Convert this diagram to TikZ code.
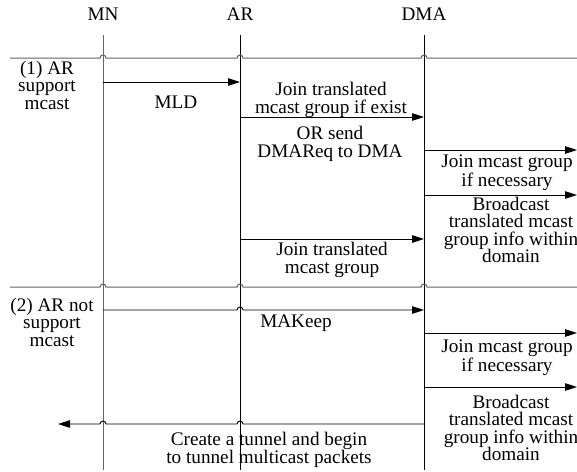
\documentclass[tikz,border=0pt]{standalone}
\usepackage{fontspec}
\setmainfont{Liberation Serif}
\usetikzlibrary{arrows.meta}
\begin{document}
\begin{tikzpicture}[x=1pt,y=-1pt,
  txt/.style={inner sep=0pt,align=center,font=\fontsize{19.2}{17.5}\selectfont},
  life/.style={line width=0.9pt},
  mnlife/.style={line width=0.9pt,draw=black!60},
  sep/.style={line width=1pt,draw=black!62},
  msg/.style={line width=0.9pt,-{Triangle[length=12pt,width=7.5pt]}}]
\useasboundingbox[fill=white] (0,0) rectangle (577,471);
% headers
\node[txt] (MN) at (103,14) {MN};
\node[txt] (AR) at (240,14) {AR};
\node[txt] (DMA) at (424,14) {DMA};
% lifelines
\coordinate (MNt) at (103,35); \coordinate (MNb) at (103,470);
\coordinate (ARt) at (240,35); \coordinate (ARb) at (240,470);
\coordinate (DMAt) at (424,35); \coordinate (DMAb) at (424,470);
\draw[mnlife] (MNt) -- (MNb);
\draw[life] (ARt) -- (ARb);
\draw[life] (DMAt) -- (DMAb);
% separators with hops
\coordinate (s1a) at (10,58); \coordinate (s1b) at (577,58);
\coordinate (s2a) at (10,287); \coordinate (s2b) at (577,287);
\draw[sep] (s1a) -- (100,58) arc[start angle=180,end angle=360,radius=3]
  -- (237,58) arc[start angle=180,end angle=360,radius=3]
  -- (421,58) arc[start angle=180,end angle=360,radius=3] -- (s1b);
\draw[sep] (s2a) -- (100,287) arc[start angle=180,end angle=360,radius=3]
  -- (237,287) arc[start angle=180,end angle=360,radius=3]
  -- (421,287) arc[start angle=180,end angle=360,radius=3] -- (s2b);
% section 1
\node[txt] (sec1) at (47,85) {(1) AR\\support\\mcast};
\coordinate (m1a) at (103,82); \coordinate (m1b) at (240,82);
\draw[msg] (m1a) -- (m1b);
\node[txt] (mld) at (176,102) {MLD};
\coordinate (m2a) at (240,117); \coordinate (m2b) at (424,117);
\draw[msg] (m2a) -- (m2b);
\node[txt] (join1) at (331,100) {Join translated\\mcast group if exist};
\node[txt] (orsend) at (330,144) {OR send\\DMAReq to DMA};
\coordinate (m3a) at (424,150); \coordinate (m3b) at (577,150);
\draw[msg] (m3a) -- (m3b);
\node[txt] (jm1) at (507,173) {Join mcast group\\if necessary};
\coordinate (m4a) at (424,195); \coordinate (m4b) at (577,195);
\draw[msg] (m4a) -- (m4b);
\node[txt] (bc1) at (511,230) {Broadcast\\translated mcast\\group info within\\domain};
\coordinate (m5a) at (240,239); \coordinate (m5b) at (424,239);
\draw[msg] (m5a) -- (m5b);
\node[txt] (join2) at (332,260) {Join translated\\mcast group};
% section 2
\node[txt] (sec2) at (52,322) {(2) AR not\\support\\mcast};
\coordinate (m6a) at (103,310); \coordinate (m6b) at (424,310);
\draw[msg] (m6a) -- (237,310) arc[start angle=180,end angle=360,radius=3] -- (m6b);
\node[txt] (makeep) at (296,323) {MAKeep};
\coordinate (m7a) at (424,333); \coordinate (m7b) at (577,333);
\draw[msg] (m7a) -- (m7b);
\node[txt] (jm2) at (507,358) {Join mcast group\\if necessary};
\coordinate (m8a) at (424,387); \coordinate (m8b) at (577,387);
\draw[msg] (m8a) -- (m8b);
\node[txt] (bc2) at (511,428) {Broadcast\\translated mcast\\group info within\\domain};
\coordinate (m9a) at (424,424); \coordinate (m9b) at (58,424);
\draw[msg] (m9a) -- (243,424) arc[start angle=0,end angle=-180,radius=3]
  -- (106,424) arc[start angle=0,end angle=-180,radius=3] -- (m9b);
\node[txt] (tunnel) at (269,450) {Create a tunnel and begin\\to tunnel multicast packets};
\end{tikzpicture}
\end{document}
